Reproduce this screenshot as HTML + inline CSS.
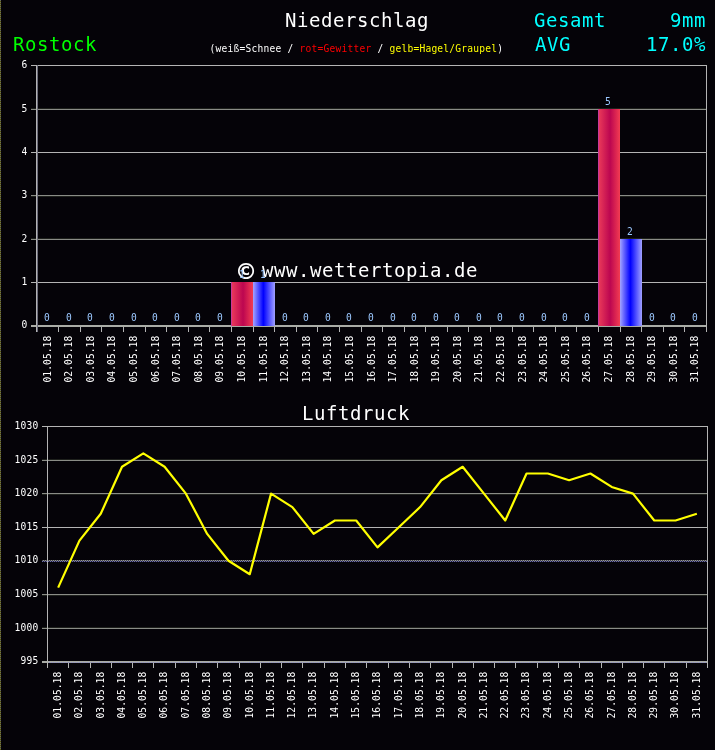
<!DOCTYPE html>
<html><head><meta charset="utf-8"><title>Niederschlag / Luftdruck Rostock</title>
<style>
html,body{margin:0;padding:0;background:#050308;}
body{width:715px;height:750px;overflow:hidden;}
svg{display:block;will-change:transform;}
.t1{font-family:'DejaVu Sans Mono','Liberation Mono',monospace;font-size:9.6px;letter-spacing:0.22px;}
.t2{font-family:'DejaVu Sans Mono','Liberation Mono',monospace;font-size:19px;letter-spacing:0.56px;}
.xl{letter-spacing:0.07px;}
</style></head><body>
<svg width="715" height="750" viewBox="0 0 715 750">
<defs>
<linearGradient id="gr" x1="0" x2="1" y1="0" y2="0">
<stop offset="0" stop-color="#ec3c5a"/><stop offset="0.55" stop-color="#bc0650"/><stop offset="1" stop-color="#f23c52"/>
</linearGradient>
<linearGradient id="gb" x1="0" x2="1" y1="0" y2="0">
<stop offset="0" stop-color="#a4a4ff"/><stop offset="0.47" stop-color="#0000ff"/><stop offset="1" stop-color="#a0a0ff"/>
</linearGradient>
<pattern id="dA" width="2" height="1" patternUnits="userSpaceOnUse">
<rect x="0" y="0" width="1" height="1" fill="#464844"/><rect x="1" y="0" width="1" height="1" fill="#94949a"/>
</pattern>
<pattern id="dB" width="2" height="1" patternUnits="userSpaceOnUse">
<rect x="0" y="0" width="1" height="1" fill="#6c6cb0"/><rect x="1" y="0" width="1" height="1" fill="#262636"/>
</pattern>
<pattern id="dC" width="2" height="1" patternUnits="userSpaceOnUse">
<rect x="0" y="0" width="1" height="1" fill="#a4a6a0"/><rect x="1" y="0" width="1" height="1" fill="#9090cc"/>
</pattern>
<pattern id="lb" width="1" height="2" patternUnits="userSpaceOnUse">
<rect x="0" y="0" width="1" height="1" fill="#686868"/><rect x="0" y="1" width="1" height="1" fill="#5a5a00"/>
</pattern>
</defs>
<rect x="0" y="0" width="715" height="750" fill="#050308"/>
<g shape-rendering="crispEdges">
<rect x="0" y="0" width="1" height="750" fill="url(#lb)"/>
<text x="285" y="27" fill="#ffffff" class="t2">Niederschlag</text>
<text x="13" y="51" fill="#00ff00" class="t2">Rostock</text>
<text x="209.5" y="52" class="t1" fill="#ffffff">(weiß=Schnee / <tspan fill="#ff0000">rot=Gewitter</tspan> / <tspan fill="#ffff00">gelb=Hagel/Graupel</tspan>)</text>
<text x="534" y="27" fill="#00ffff" class="t2">Gesamt</text>
<text x="670" y="27" fill="#00ffff" class="t2">9mm</text>
<text x="535" y="51" fill="#00ffff" class="t2">AVG</text>
<text x="646" y="51" fill="#00ffff" class="t2">17.0%</text>
<rect x="31" y="65" width="676" height="1" fill="#b4b4b4"/>
<text x="21.5" y="68" fill="#ffffff" class="t1">6</text>
<rect x="31" y="109" width="676" height="1" fill="#8a8c86"/>
<rect x="31" y="108" width="676" height="1" fill="#1e201c"/>
<text x="21.5" y="112" fill="#ffffff" class="t1">5</text>
<rect x="31" y="152" width="676" height="1" fill="#b4b4b4"/>
<text x="21.5" y="155" fill="#ffffff" class="t1">4</text>
<rect x="31" y="195" width="676" height="1" fill="#8a8c86"/>
<rect x="31" y="196" width="676" height="1" fill="#1e201c"/>
<text x="21.5" y="198" fill="#ffffff" class="t1">3</text>
<rect x="31" y="239" width="676" height="1" fill="#8a8c86"/>
<rect x="31" y="238" width="676" height="1" fill="#1e201c"/>
<text x="21.5" y="242" fill="#ffffff" class="t1">2</text>
<rect x="31" y="282" width="676" height="1" fill="#b4b4b4"/>
<text x="21.5" y="285" fill="#ffffff" class="t1">1</text>
<text x="21.5" y="328" fill="#ffffff" class="t1">0</text>
<rect x="31" y="325" width="676" height="2" fill="#aaaca6"/>
<rect x="36" y="65" width="1" height="267" fill="#b4b4b4"/>
<rect x="37" y="65" width="1" height="267" fill="#6c6c7c"/>
<rect x="706" y="65" width="1" height="267" fill="#b4b4b4"/>
<rect x="58" y="327" width="1" height="5" fill="#b4b4b4"/>
<rect x="80" y="327" width="1" height="5" fill="#b4b4b4"/>
<rect x="101" y="327" width="1" height="5" fill="#b4b4b4"/>
<rect x="123" y="327" width="1" height="5" fill="#b4b4b4"/>
<rect x="145" y="327" width="1" height="5" fill="#b4b4b4"/>
<rect x="166" y="327" width="1" height="5" fill="#b4b4b4"/>
<rect x="188" y="327" width="1" height="5" fill="#b4b4b4"/>
<rect x="209" y="327" width="1" height="5" fill="#b4b4b4"/>
<rect x="231" y="327" width="1" height="5" fill="#b4b4b4"/>
<rect x="253" y="327" width="1" height="5" fill="#b4b4b4"/>
<rect x="274" y="327" width="1" height="5" fill="#b4b4b4"/>
<rect x="296" y="327" width="1" height="5" fill="#b4b4b4"/>
<rect x="317" y="327" width="1" height="5" fill="#b4b4b4"/>
<rect x="339" y="327" width="1" height="5" fill="#b4b4b4"/>
<rect x="361" y="327" width="1" height="5" fill="#b4b4b4"/>
<rect x="382" y="327" width="1" height="5" fill="#b4b4b4"/>
<rect x="404" y="327" width="1" height="5" fill="#b4b4b4"/>
<rect x="425" y="327" width="1" height="5" fill="#b4b4b4"/>
<rect x="447" y="327" width="1" height="5" fill="#b4b4b4"/>
<rect x="468" y="327" width="1" height="5" fill="#b4b4b4"/>
<rect x="490" y="327" width="1" height="5" fill="#b4b4b4"/>
<rect x="512" y="327" width="1" height="5" fill="#b4b4b4"/>
<rect x="533" y="327" width="1" height="5" fill="#b4b4b4"/>
<rect x="555" y="327" width="1" height="5" fill="#b4b4b4"/>
<rect x="576" y="327" width="1" height="5" fill="#b4b4b4"/>
<rect x="598" y="327" width="1" height="5" fill="#b4b4b4"/>
<rect x="620" y="327" width="1" height="5" fill="#b4b4b4"/>
<rect x="641" y="327" width="1" height="5" fill="#b4b4b4"/>
<rect x="663" y="327" width="1" height="5" fill="#b4b4b4"/>
<rect x="684" y="327" width="1" height="5" fill="#b4b4b4"/>
<text x="238" y="281" fill="#fff" style="font-family:'DejaVu Sans Mono',monospace;font-size:26.7px;font-weight:bold">©</text>
<text x="262" y="277" fill="#ffffff" class="t2">www.wettertopia.de</text>
<text x="44" y="321" fill="#9cc8ff" class="t1">0</text>
<text x="66" y="321" fill="#9cc8ff" class="t1">0</text>
<text x="87" y="321" fill="#9cc8ff" class="t1">0</text>
<text x="109" y="321" fill="#9cc8ff" class="t1">0</text>
<text x="131" y="321" fill="#9cc8ff" class="t1">0</text>
<text x="152" y="321" fill="#9cc8ff" class="t1">0</text>
<text x="174" y="321" fill="#9cc8ff" class="t1">0</text>
<text x="195" y="321" fill="#9cc8ff" class="t1">0</text>
<text x="217" y="321" fill="#9cc8ff" class="t1">0</text>
<rect x="231" y="282" width="22" height="44" fill="url(#gr)"/>
<rect x="231" y="282" width="1" height="44" fill="#c8389a"/>
<text x="239" y="278" fill="#9cc8ff" class="t1">1</text>
<rect x="253" y="282" width="22" height="44" fill="url(#gb)"/>
<text x="260" y="278" fill="#9cc8ff" class="t1">1</text>
<text x="282" y="321" fill="#9cc8ff" class="t1">0</text>
<text x="303" y="321" fill="#9cc8ff" class="t1">0</text>
<text x="325" y="321" fill="#9cc8ff" class="t1">0</text>
<text x="346" y="321" fill="#9cc8ff" class="t1">0</text>
<text x="368" y="321" fill="#9cc8ff" class="t1">0</text>
<text x="390" y="321" fill="#9cc8ff" class="t1">0</text>
<text x="411" y="321" fill="#9cc8ff" class="t1">0</text>
<text x="433" y="321" fill="#9cc8ff" class="t1">0</text>
<text x="454" y="321" fill="#9cc8ff" class="t1">0</text>
<text x="476" y="321" fill="#9cc8ff" class="t1">0</text>
<text x="497" y="321" fill="#9cc8ff" class="t1">0</text>
<text x="519" y="321" fill="#9cc8ff" class="t1">0</text>
<text x="541" y="321" fill="#9cc8ff" class="t1">0</text>
<text x="562" y="321" fill="#9cc8ff" class="t1">0</text>
<text x="584" y="321" fill="#9cc8ff" class="t1">0</text>
<rect x="598" y="109" width="22" height="217" fill="url(#gr)"/>
<rect x="598" y="109" width="1" height="217" fill="#c8389a"/>
<text x="605" y="105" fill="#9cc8ff" class="t1">5</text>
<rect x="620" y="239" width="22" height="87" fill="url(#gb)"/>
<text x="627" y="235" fill="#9cc8ff" class="t1">2</text>
<text x="649" y="321" fill="#9cc8ff" class="t1">0</text>
<text x="670" y="321" fill="#9cc8ff" class="t1">0</text>
<text x="692" y="321" fill="#9cc8ff" class="t1">0</text>
<text class="t1 xl" transform="translate(51,382.5) rotate(-90)" fill="#ffffff">01.05.18</text>
<text class="t1 xl" transform="translate(72,382.5) rotate(-90)" fill="#ffffff">02.05.18</text>
<text class="t1 xl" transform="translate(94,382.5) rotate(-90)" fill="#ffffff">03.05.18</text>
<text class="t1 xl" transform="translate(115,382.5) rotate(-90)" fill="#ffffff">04.05.18</text>
<text class="t1 xl" transform="translate(137,382.5) rotate(-90)" fill="#ffffff">05.05.18</text>
<text class="t1 xl" transform="translate(159,382.5) rotate(-90)" fill="#ffffff">06.05.18</text>
<text class="t1 xl" transform="translate(180,382.5) rotate(-90)" fill="#ffffff">07.05.18</text>
<text class="t1 xl" transform="translate(202,382.5) rotate(-90)" fill="#ffffff">08.05.18</text>
<text class="t1 xl" transform="translate(223,382.5) rotate(-90)" fill="#ffffff">09.05.18</text>
<text class="t1 xl" transform="translate(245,382.5) rotate(-90)" fill="#ffffff">10.05.18</text>
<text class="t1 xl" transform="translate(267,382.5) rotate(-90)" fill="#ffffff">11.05.18</text>
<text class="t1 xl" transform="translate(288,382.5) rotate(-90)" fill="#ffffff">12.05.18</text>
<text class="t1 xl" transform="translate(310,382.5) rotate(-90)" fill="#ffffff">13.05.18</text>
<text class="t1 xl" transform="translate(331,382.5) rotate(-90)" fill="#ffffff">14.05.18</text>
<text class="t1 xl" transform="translate(353,382.5) rotate(-90)" fill="#ffffff">15.05.18</text>
<text class="t1 xl" transform="translate(375,382.5) rotate(-90)" fill="#ffffff">16.05.18</text>
<text class="t1 xl" transform="translate(396,382.5) rotate(-90)" fill="#ffffff">17.05.18</text>
<text class="t1 xl" transform="translate(418,382.5) rotate(-90)" fill="#ffffff">18.05.18</text>
<text class="t1 xl" transform="translate(439,382.5) rotate(-90)" fill="#ffffff">19.05.18</text>
<text class="t1 xl" transform="translate(461,382.5) rotate(-90)" fill="#ffffff">20.05.18</text>
<text class="t1 xl" transform="translate(482,382.5) rotate(-90)" fill="#ffffff">21.05.18</text>
<text class="t1 xl" transform="translate(504,382.5) rotate(-90)" fill="#ffffff">22.05.18</text>
<text class="t1 xl" transform="translate(526,382.5) rotate(-90)" fill="#ffffff">23.05.18</text>
<text class="t1 xl" transform="translate(547,382.5) rotate(-90)" fill="#ffffff">24.05.18</text>
<text class="t1 xl" transform="translate(569,382.5) rotate(-90)" fill="#ffffff">25.05.18</text>
<text class="t1 xl" transform="translate(590,382.5) rotate(-90)" fill="#ffffff">26.05.18</text>
<text class="t1 xl" transform="translate(612,382.5) rotate(-90)" fill="#ffffff">27.05.18</text>
<text class="t1 xl" transform="translate(634,382.5) rotate(-90)" fill="#ffffff">28.05.18</text>
<text class="t1 xl" transform="translate(655,382.5) rotate(-90)" fill="#ffffff">29.05.18</text>
<text class="t1 xl" transform="translate(677,382.5) rotate(-90)" fill="#ffffff">30.05.18</text>
<text class="t1 xl" transform="translate(698,382.5) rotate(-90)" fill="#ffffff">31.05.18</text>
<text x="302" y="420" fill="#ffffff" class="t2">Luftdruck</text>
<rect x="42" y="426" width="666" height="1" fill="#b4b4b4"/>
<text x="14.5" y="429" fill="#ffffff" class="t1">1030</text>
<rect x="42" y="460" width="666" height="1" fill="#8a8c86"/>
<rect x="42" y="459" width="666" height="1" fill="#1e201c"/>
<text x="14.5" y="463" fill="#ffffff" class="t1">1025</text>
<rect x="42" y="493" width="666" height="1" fill="#8a8c86"/>
<rect x="42" y="494" width="666" height="1" fill="#1e201c"/>
<text x="14.5" y="496" fill="#ffffff" class="t1">1020</text>
<rect x="42" y="527" width="666" height="1" fill="#b4b4b4"/>
<text x="14.5" y="530" fill="#ffffff" class="t1">1015</text>
<rect x="42" y="560" width="666" height="1" fill="url(#dA)"/>
<rect x="42" y="561" width="666" height="1" fill="url(#dB)"/>
<text x="14.5" y="563" fill="#ffffff" class="t1">1010</text>
<rect x="42" y="594" width="666" height="1" fill="#8a8c86"/>
<rect x="42" y="595" width="666" height="1" fill="#1e201c"/>
<text x="14.5" y="597" fill="#ffffff" class="t1">1005</text>
<rect x="42" y="628" width="666" height="1" fill="#8a8c86"/>
<rect x="42" y="627" width="666" height="1" fill="#1e201c"/>
<text x="14.5" y="631" fill="#ffffff" class="t1">1000</text>
<text x="20.5" y="664" fill="#ffffff" class="t1">995</text>
<rect x="42" y="661" width="666" height="1" fill="#aaaca6"/>
<rect x="42" y="662" width="6" height="1" fill="#aaaca6"/>
<rect x="48" y="662" width="660" height="1" fill="url(#dC)"/>
<rect x="47" y="426" width="1" height="242" fill="#b4b4b4"/>
<rect x="707" y="426" width="1" height="242" fill="#b4b4b4"/>
<rect x="68" y="663" width="1" height="5" fill="#b4b4b4"/>
<rect x="90" y="663" width="1" height="5" fill="#b4b4b4"/>
<rect x="111" y="663" width="1" height="5" fill="#b4b4b4"/>
<rect x="132" y="663" width="1" height="5" fill="#b4b4b4"/>
<rect x="153" y="663" width="1" height="5" fill="#b4b4b4"/>
<rect x="175" y="663" width="1" height="5" fill="#b4b4b4"/>
<rect x="196" y="663" width="1" height="5" fill="#b4b4b4"/>
<rect x="217" y="663" width="1" height="5" fill="#b4b4b4"/>
<rect x="239" y="663" width="1" height="5" fill="#b4b4b4"/>
<rect x="260" y="663" width="1" height="5" fill="#b4b4b4"/>
<rect x="281" y="663" width="1" height="5" fill="#b4b4b4"/>
<rect x="302" y="663" width="1" height="5" fill="#b4b4b4"/>
<rect x="324" y="663" width="1" height="5" fill="#b4b4b4"/>
<rect x="345" y="663" width="1" height="5" fill="#b4b4b4"/>
<rect x="366" y="663" width="1" height="5" fill="#b4b4b4"/>
<rect x="388" y="663" width="1" height="5" fill="#b4b4b4"/>
<rect x="409" y="663" width="1" height="5" fill="#b4b4b4"/>
<rect x="430" y="663" width="1" height="5" fill="#b4b4b4"/>
<rect x="452" y="663" width="1" height="5" fill="#b4b4b4"/>
<rect x="473" y="663" width="1" height="5" fill="#b4b4b4"/>
<rect x="494" y="663" width="1" height="5" fill="#b4b4b4"/>
<rect x="515" y="663" width="1" height="5" fill="#b4b4b4"/>
<rect x="537" y="663" width="1" height="5" fill="#b4b4b4"/>
<rect x="558" y="663" width="1" height="5" fill="#b4b4b4"/>
<rect x="579" y="663" width="1" height="5" fill="#b4b4b4"/>
<rect x="601" y="663" width="1" height="5" fill="#b4b4b4"/>
<rect x="622" y="663" width="1" height="5" fill="#b4b4b4"/>
<rect x="643" y="663" width="1" height="5" fill="#b4b4b4"/>
<rect x="664" y="663" width="1" height="5" fill="#b4b4b4"/>
<rect x="686" y="663" width="1" height="5" fill="#b4b4b4"/>
</g><polyline points="58.15,587.64 79.44,540.64 100.73,513.79 122.02,466.79 143.31,453.36 164.60,466.79 185.89,493.64 207.18,533.93 228.47,560.79 249.76,574.21 271.05,493.64 292.34,507.07 313.63,533.93 334.92,520.50 356.21,520.50 377.50,547.36 398.80,527.21 420.09,507.07 441.38,480.21 462.67,466.79 483.96,493.64 505.25,520.50 526.54,473.50 547.83,473.50 569.12,480.21 590.41,473.50 611.70,486.93 632.99,493.64 654.28,520.50 675.57,520.50 696.86,513.79" fill="none" stroke="#ffff00" stroke-width="2.2" stroke-linejoin="round"/><g shape-rendering="crispEdges">
<text class="t1 xl" transform="translate(61,718.5) rotate(-90)" fill="#ffffff">01.05.18</text>
<text class="t1 xl" transform="translate(82,718.5) rotate(-90)" fill="#ffffff">02.05.18</text>
<text class="t1 xl" transform="translate(104,718.5) rotate(-90)" fill="#ffffff">03.05.18</text>
<text class="t1 xl" transform="translate(125,718.5) rotate(-90)" fill="#ffffff">04.05.18</text>
<text class="t1 xl" transform="translate(146,718.5) rotate(-90)" fill="#ffffff">05.05.18</text>
<text class="t1 xl" transform="translate(167,718.5) rotate(-90)" fill="#ffffff">06.05.18</text>
<text class="t1 xl" transform="translate(189,718.5) rotate(-90)" fill="#ffffff">07.05.18</text>
<text class="t1 xl" transform="translate(210,718.5) rotate(-90)" fill="#ffffff">08.05.18</text>
<text class="t1 xl" transform="translate(231,718.5) rotate(-90)" fill="#ffffff">09.05.18</text>
<text class="t1 xl" transform="translate(253,718.5) rotate(-90)" fill="#ffffff">10.05.18</text>
<text class="t1 xl" transform="translate(274,718.5) rotate(-90)" fill="#ffffff">11.05.18</text>
<text class="t1 xl" transform="translate(295,718.5) rotate(-90)" fill="#ffffff">12.05.18</text>
<text class="t1 xl" transform="translate(316,718.5) rotate(-90)" fill="#ffffff">13.05.18</text>
<text class="t1 xl" transform="translate(338,718.5) rotate(-90)" fill="#ffffff">14.05.18</text>
<text class="t1 xl" transform="translate(359,718.5) rotate(-90)" fill="#ffffff">15.05.18</text>
<text class="t1 xl" transform="translate(380,718.5) rotate(-90)" fill="#ffffff">16.05.18</text>
<text class="t1 xl" transform="translate(402,718.5) rotate(-90)" fill="#ffffff">17.05.18</text>
<text class="t1 xl" transform="translate(423,718.5) rotate(-90)" fill="#ffffff">18.05.18</text>
<text class="t1 xl" transform="translate(444,718.5) rotate(-90)" fill="#ffffff">19.05.18</text>
<text class="t1 xl" transform="translate(466,718.5) rotate(-90)" fill="#ffffff">20.05.18</text>
<text class="t1 xl" transform="translate(487,718.5) rotate(-90)" fill="#ffffff">21.05.18</text>
<text class="t1 xl" transform="translate(508,718.5) rotate(-90)" fill="#ffffff">22.05.18</text>
<text class="t1 xl" transform="translate(529,718.5) rotate(-90)" fill="#ffffff">23.05.18</text>
<text class="t1 xl" transform="translate(551,718.5) rotate(-90)" fill="#ffffff">24.05.18</text>
<text class="t1 xl" transform="translate(572,718.5) rotate(-90)" fill="#ffffff">25.05.18</text>
<text class="t1 xl" transform="translate(593,718.5) rotate(-90)" fill="#ffffff">26.05.18</text>
<text class="t1 xl" transform="translate(615,718.5) rotate(-90)" fill="#ffffff">27.05.18</text>
<text class="t1 xl" transform="translate(636,718.5) rotate(-90)" fill="#ffffff">28.05.18</text>
<text class="t1 xl" transform="translate(657,718.5) rotate(-90)" fill="#ffffff">29.05.18</text>
<text class="t1 xl" transform="translate(678,718.5) rotate(-90)" fill="#ffffff">30.05.18</text>
<text class="t1 xl" transform="translate(700,718.5) rotate(-90)" fill="#ffffff">31.05.18</text>
</g>
</svg>
</body></html>
